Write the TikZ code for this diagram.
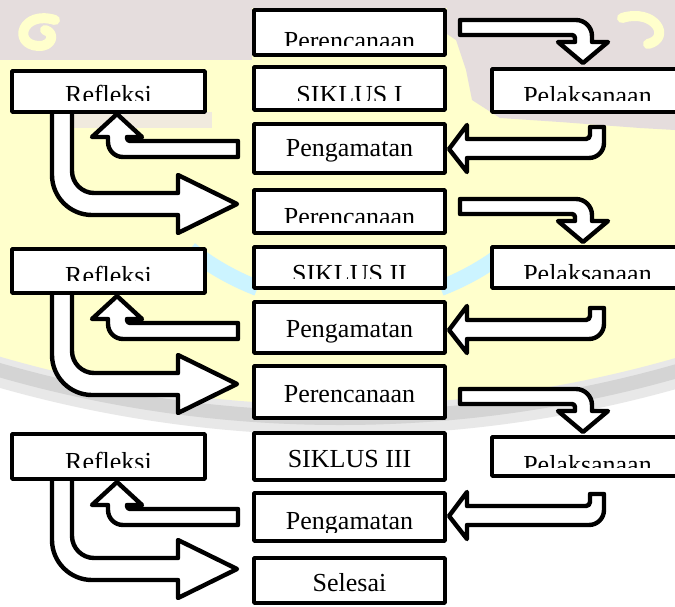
\documentclass[tikz,border=0pt]{standalone}
\usepackage{fontspec}
\setmainfont{Liberation Serif}
\definecolor{wyellow}{RGB}{255,255,204}
\definecolor{wpink}{RGB}{229,221,221}
\definecolor{wpinkl}{RGB}{240,234,222}
\definecolor{wcyan}{RGB}{204,244,255}
\definecolor{wgrey}{RGB}{212,212,212}
\definecolor{wgreyl}{RGB}{232,232,232}
\tikzset{
  boxst/.style={draw=black, fill=white, line width=4.4pt, inner sep=0pt, outer sep=0pt},
  lbl/.style={font=\fontsize{26}{30}\selectfont, inner sep=0pt, anchor=base, text=black},
  barrow/.style={draw=black, fill=white, line width=4.4pt, line join=round}
}
% #1 name, #2 x1, #3 y1, #4 x2, #5 y2, #6 baseline, #7 cut, #8 text
\newcommand{\mybox}[8]{%
  \node[boxst, minimum width={(#4-#2-4.4)*1pt}, minimum height={(#5-#3-4.4)*1pt}] (#1) at ({(#2+#4)/2},{(#3+#5)/2}) {};
  \begin{scope}
    \clip (#2,#3) rectangle (#4,#7);
    \node[lbl] (#1-t) at ({(#2+#4)/2},#6) {#8};
  \end{scope}
}
\newcommand{\arrowA}[1]{\begin{scope}[shift={(0,#1)}]
  \draw[barrow] (460,20) -- (576,20) .. controls (584.8,20) and (592,27.2) .. (592,36) -- (592,42) -- (608,42) -- (583,63) -- (558,42) -- (575,42) -- (575,38) .. controls (575,36.3) and (573.7,35) .. (572,35) -- (460,35) -- cycle;
\end{scope}}
\newcommand{\arrowB}[1]{\begin{scope}[shift={(0,#1)}]
  \draw[barrow] (590,127) -- (604,127) -- (604,143) .. controls (604,151.3) and (597.3,158) .. (589,158) -- (467,158) -- (467,172) -- (449,149) -- (467,125) -- (467,139) -- (586,139) .. controls (588.2,139) and (590,137.2) .. (590,135) -- cycle;
\end{scope}}
\newcommand{\arrowC}[1]{\begin{scope}[shift={(0,#1)}]
  \draw[barrow] (238,141) -- (130,141) .. controls (128.3,141) and (127,139.7) .. (127,138) -- (127,137) -- (142,137) -- (117,114) -- (92,137) -- (108,137) -- (108,142) .. controls (108,150.3) and (114.7,157) .. (123,157) -- (238,157) -- cycle;
\end{scope}}
\newcommand{\arrowD}[1]{\begin{scope}[shift={(0,#1)}]
  \draw[barrow] (52,100) -- (52,175) .. controls (52,197) and (70,215) .. (92,215) -- (178,215) -- (178,233) -- (237,204) -- (178,175) -- (178,193) -- (94,193) .. controls (82,193) and (72,183) .. (72,171) -- (72,100) -- cycle;
\end{scope}}
\begin{document}
\begin{tikzpicture}[x=1pt, y=-1pt, line join=round]
\useasboundingbox (0,0) rectangle (675,606);
\begin{scope}
\clip (0,0) rectangle (675,606);
% watermark background
\fill[white] (0,0) rectangle (675,606);
\fill[wyellow] (340,-808) circle[radius=1228pt];
\draw[wgreyl, line width=30pt] (340,-808) circle[radius=1228pt];
\draw[wgrey, line width=14pt] (340,-808) circle[radius=1226pt];
\fill[wpink] (0,0) rectangle (675,8);
\fill[wpink] (0,0) -- (252,0) -- (252,60) -- (0,60) -- cycle;
\fill[wpink] (447,0) -- (675,0) -- (675,130) -- (640,128) -- (560,122) -- (500,118) -- (472,100) -- (466,70) -- (456,40) -- (447,34) -- cycle;
\fill[wpinkl] (60,112) -- (212,112) -- (212,128) -- (60,128) -- cycle;
\draw[wyellow, line width=10pt, line cap=round] (55,20) .. controls (22,10) and (12,44) .. (38,46) .. controls (52,47) and (56,33) .. (45,30);
\draw[wyellow, line width=10pt, line cap=round] (622,18) .. controls (655,8) and (672,38) .. (648,44);
\draw[wcyan, line width=16pt] plot[domain=128.5:111, samples=20] ({349+255.4*cos(\x)}, {49.6+255.4*sin(\x)});
\draw[wcyan, line width=16pt] plot[domain=69:52, samples=20] ({349+255.4*cos(\x)}, {49.6+255.4*sin(\x)});
% block arrows
\arrowA{0}\arrowA{179}\arrowA{369}
\arrowB{0}\arrowB{181}\arrowB{367}
\arrowC{0}\arrowC{182}\arrowC{368}
\arrowD{0}\arrowD{180}\arrowD{365}
% centre column
\mybox{p1}{252}{8}{447}{57}{49.2}{45}{Perencanaan}
\mybox{s1}{252}{65}{447}{112}{103.2}{100}{SIKLUS I}
\mybox{g1}{252}{122}{447}{175}{156.2}{175}{Pengamatan}
\mybox{p2}{252}{188}{447}{235}{225.2}{222}{Perencanaan}
\mybox{s2}{252}{245}{447}{290}{282.2}{278}{SIKLUS II}
\mybox{g2}{252}{300}{447}{355}{337.2}{355}{Pengamatan}
\mybox{p3}{252}{364}{447}{420}{402.2}{420}{Perencanaan}
\mybox{s3}{252}{431}{447}{482}{467.2}{482}{SIKLUS III}
\mybox{g3}{252}{491}{447}{543}{529.2}{532}{Pengamatan}
\mybox{se}{252}{556}{447}{605}{591}{605}{Selesai}
% left column
\mybox{r1}{10}{69}{207}{114}{103.2}{100}{Refleksi}
\mybox{r2}{10}{247}{207}{295}{284.2}{280}{Refleksi}
\mybox{r3}{10}{432}{207}{481}{470.2}{467}{Refleksi}
% right column
\mybox{l1}{490}{67}{685}{114}{104.2}{100}{Pelaksanaan}
\mybox{l2}{490}{245}{685}{290}{282.2}{278}{Pelaksanaan}
\mybox{l3}{490}{435}{685}{478}{473.2}{467}{Pelaksanaan}
\end{scope}
\end{tikzpicture}
\end{document}
